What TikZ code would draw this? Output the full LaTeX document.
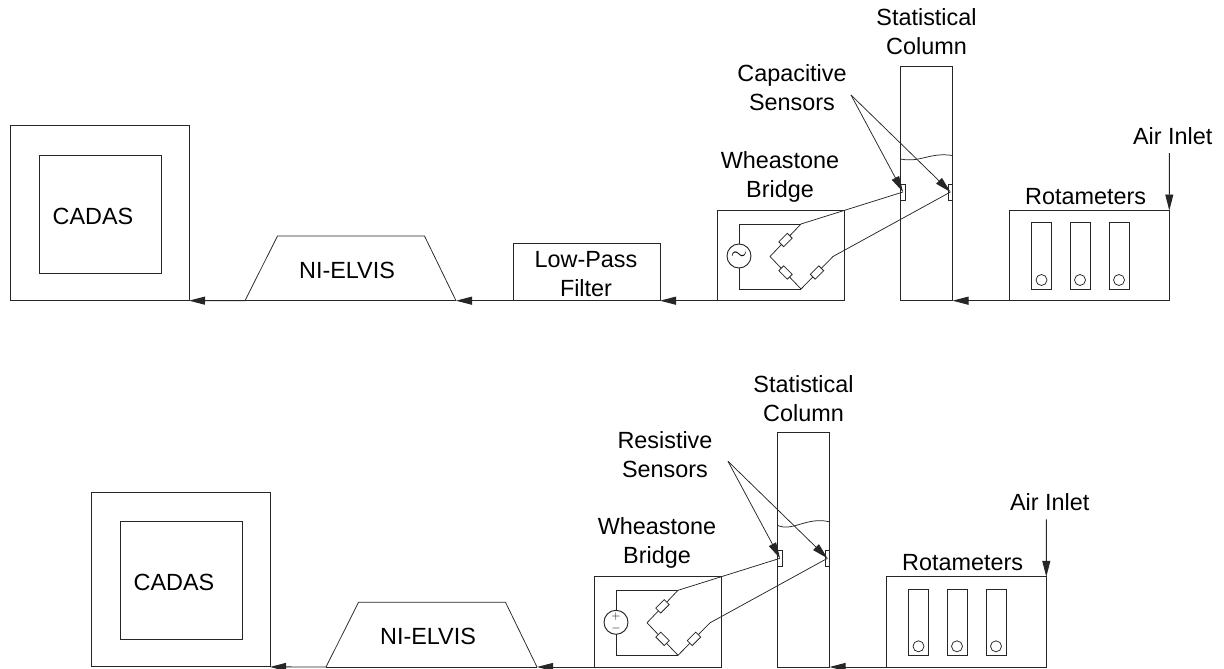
\documentclass[tikz,border=0pt]{standalone}
\usepackage{fontspec}
\setmainfont{Liberation Sans}
\usetikzlibrary{arrows.meta}
\tikzset{
	box/.style={draw,outer sep=0pt,inner sep=0pt},
	lbl/.style={align=center,inner sep=0pt,text=black,font=\fontsize{23.4}{29}\selectfont},
	thin line/.style={line width=0.75pt},
	tip/.style={-{Triangle[length=16pt,width=8pt]}},
	res/.style={box,fill=white,thin line,minimum width=12pt,minimum height=7pt},
}
% CADAS and NI-ELVIS
\newcommand{\readout}{
	\node[box,minimum width=179pt,minimum height=174.7pt] (cadas) at (99.5,213.3) {};
	\node[box,minimum width=122pt,minimum height=118pt] (screen) at (100,214) {};
	\node[lbl] (cadastxt) at (93,216) {CADAS};
	\coordinate (elvisin) at (456,300.7);
	\coordinate (elvisout) at (245,300.7);
	\draw[thin line] (elvisout) -- (277.5,236) -- (424.5,236) -- (elvisin);
	\draw (elvisout) -- (elvisin);
	\node[lbl] (elvistxt) at (347,270) {NI-ELVIS};
	\draw[tip] (elvisout) -- (cadas.south east);
}
% column, bridge and rotameters: #1 sensors, #2 source, #3 and #4 wave
\newcommand{\flowline}[4]{
	\node[box,minimum width=127pt,minimum height=90.2pt] (bridge) at (780.5,255.6) {};
	\node[lbl] (bridgetxt) at (780,177) {Wheastone\\Bridge};
	\node[box,minimum width=52pt,minimum height=234.2pt] (col) at (926.5,183.6) {};
	\node[lbl] (coltxt) at (926.5,32) {Statistical\\Column};
	\draw[thin line] (900.5,159) .. controls #3 and #4 .. (952.5,155.5);
	\node[box,thin line,minimum width=4.5pt,minimum height=16pt] (s1) at (903,192) {};
	\node[box,thin line,minimum width=4.5pt,minimum height=16pt] (s2) at (950.5,192) {};
	\node[lbl] (senstxt) at #1;
	\coordinate (lead) at (851,95);
	\draw[thin line,tip] (lead) -- (s1.center);
	\draw[thin line,tip] (lead) -- (s2.center);
	% bridge circuit
	\coordinate (dtop) at (801,224);
	\coordinate (dbot) at (801,289);
	\coordinate (dleft) at (770,256.5);
	\coordinate (dright) at (833,256.5);
	\node[box,circle,fill=white,text=black,minimum size=24pt] (src) at (739,256) {#2};
	\draw (src) |- (dtop);
	\draw (src) |- (dbot);
	\draw[thin line] (dleft) -- (dtop) -- (s1.center);
	\draw[thin line] (dleft) -- (dbot) -- (dright) -- (s2.center);
	\node[res,rotate=45] (r1) at (785.5,240) {};
	\node[res,rotate=-45] (r2) at (785.5,272.5) {};
	\node[res,rotate=45] (r3) at (817,272.5) {};
	% rotameters
	\node[box,minimum width=160.3pt,minimum height=90.2pt] (rot) at (1089.15,255.6) {};
	\node[lbl] (rottxt) at (1085.7,196.7) {Rotameters};
	\foreach \tx/\tn in {1041.5/a,1080/b,1119/c}{
		\node[box,minimum width=20pt,minimum height=66.5pt] (tube\tn) at (\tx,256) {};
		\node[box,circle,thin line,minimum size=11pt] (ball\tn) at (\tx,280) {};
	}
	\node[lbl] (airtxt) at (1172.7,135.7) {Air Inlet};
	\coordinate (air) at (1169.3,153);
	\draw[tip] (air) -- (rot.north east);
	\draw[tip] (rot.south west) -- (col.south east);
}
\begin{document}
\begin{tikzpicture}[x=1pt,y=-1pt,line width=0.95pt,color={black!85}]
	\useasboundingbox (0,0) rectangle (1224,669);
	% capacitive line
	\begin{scope}[name prefix=a-]
		\readout
		\flowline{(792,88) {Capacitive\\Sensors}}{\fontsize{20}{20}\selectfont$\sim$}{(920,163)}{(930,152)}
		\node[box,minimum width=147pt,minimum height=57.7pt] (filter) at (586.5,271.85) {};
		\node[lbl] (filtertxt) at (586,274) {Low-Pass\\Filter};
		\draw[tip] (filter.south west) -- (elvisin);
		\draw[tip] (bridge.south west) -- (filter.south east);
	\end{scope}
	% resistive line
	\begin{scope}[name prefix=b-,shift={(81,366.3)}]
		\readout
	\end{scope}
	\begin{scope}[name prefix=c-,shift={(-123,366.3)}]
		\flowline{(788,88) {Resistive\\Sensors}}{\fontsize{12}{10}\selectfont\shortstack{$+$\\[1.5pt]$-$}}{(915,166)}{(930,150)}
	\end{scope}
	\draw[tip] (c-bridge.south west) -- (b-elvisin);
\end{tikzpicture}
\end{document}
